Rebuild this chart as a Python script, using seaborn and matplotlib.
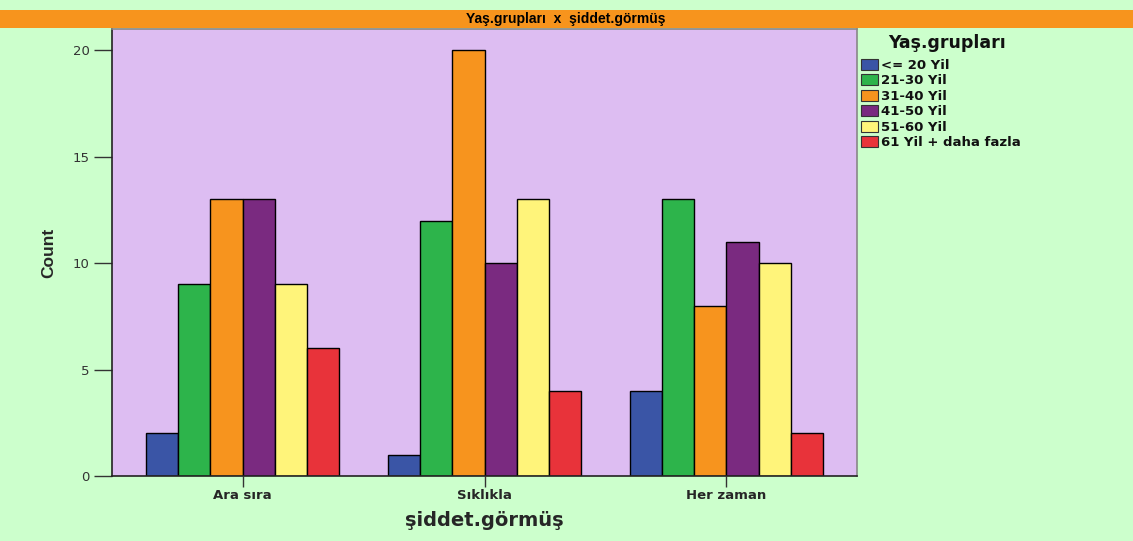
import numpy as np
import pandas as pd
import matplotlib
matplotlib.use("Agg")
import matplotlib.pyplot as plt
from matplotlib.patches import Rectangle, Patch
import seaborn as sns

###############################################################################

categories = ['Ara sıra', 'Sıklıkla', 'Her zaman']
age_groups = ['<= 20 Yil', '21-30 Yil', '31-40 Yil', '41-50 Yil',
              '51-60 Yil', '61 Yil + daha fazla']

counts_le20 = [2, 1, 4]
counts_21_30 = [9, 12, 13]
counts_31_40 = [13, 20, 8]
counts_41_50 = [13, 10, 11]
counts_51_60 = [9, 13, 10]
counts_61plus = [6, 4, 2]

bar_cols = ['#3A55A6', '#2DB44B', '#F7941E', '#7A2A80', '#FFF47A', '#E8333A']

###############################################################################

all_counts = [counts_le20, counts_21_30, counts_31_40, counts_41_50,
              counts_51_60, counts_61plus]

rows = []
for grp, vals in zip(age_groups, all_counts):
    for cat, v in zip(categories, vals):
        rows.append({'cat': cat, 'grp': grp, 'count': v})
df = pd.DataFrame(rows)

sns.set_style('white')
plt.rcParams['font.family'] = ['DejaVu Sans']

bg_green = '#CCFFCC'
fig = plt.figure(figsize=(11.33, 5.41), dpi=100, facecolor=bg_green)

# orange title band
W, H = 1133, 541
fig.patches.append(Rectangle((0, 1 - 28 / H), 1, 18 / H,
                             transform=fig.transFigure,
                             facecolor='#F7941D', edgecolor='none',
                             zorder=0))
fig.text(566 / W, 1 - 19 / H, 'Yaş.grupları  x  şiddet.görmüş',
         ha='center', va='center', fontsize=10, fontweight='bold',
         color='black',
         family=['Liberation Sans Narrow', 'Liberation Sans', 'DejaVu Sans'])

ax = fig.add_axes([112 / W, 1 - 476 / H, (857 - 112) / W, (476 - 29) / H])
ax.set_facecolor('#DDBDF2')

sns.barplot(data=df, x='cat', y='count', hue='grp', order=categories,
            hue_order=age_groups, palette=bar_cols, width=0.8,
            edgecolor='black', linewidth=1, saturation=1,
            legend=False, ax=ax)

ax.set_ylim(0, 21)
ax.set_xlim(-0.54, 2.54)
ax.set_yticks([0, 5, 10, 15, 20])
ax.tick_params(axis='both', direction='out', width=1,
               color='#333333', left=True, bottom=True)
ax.tick_params(axis='y', labelsize=9.5, labelcolor='#333333',
               length=13, pad=3)
ax.tick_params(axis='x', labelsize=9.5, length=8, pad=1.5)
for lbl in ax.get_xticklabels():
    lbl.set_fontweight('bold')

ax.set_xlabel('şiddet.görmüş', fontsize=14, fontweight='bold',
              labelpad=6)
ax.set_ylabel('Count', fontsize=12.5, fontweight='bold',
              family=['Liberation Sans Narrow', 'Liberation Sans'],
              labelpad=12)

for side in ['left', 'bottom']:
    ax.spines[side].set_color('#222222')
    ax.spines[side].set_linewidth(1.2)
for side in ['right', 'top']:
    ax.spines[side].set_color('#888888')
    ax.spines[side].set_linewidth(1.2)

# legend title drawn on its own so the gap below it matches
fig.text(888 / W, 1 - 43 / H, 'Yaş.grupları', ha='left', va='center',
         fontsize=12.5, fontweight='bold', color='#111111')

handles = [Patch(facecolor=c, edgecolor='#333333', linewidth=0.8)
           for c in bar_cols]
leg = fig.legend(handles, age_groups,
                 loc='upper left', bbox_to_anchor=(858 / W, 1 - 56 / H),
                 frameon=False, fontsize=9.5,
                 handlelength=1.35, handleheight=0.95, handletextpad=0.2,
                 labelspacing=0.17, borderaxespad=0, borderpad=0.2)
for t in leg.get_texts():
    t.set_fontweight('bold')
    t.set_color('#111111')

fig.savefig('out.png', dpi=100, facecolor=bg_green)
